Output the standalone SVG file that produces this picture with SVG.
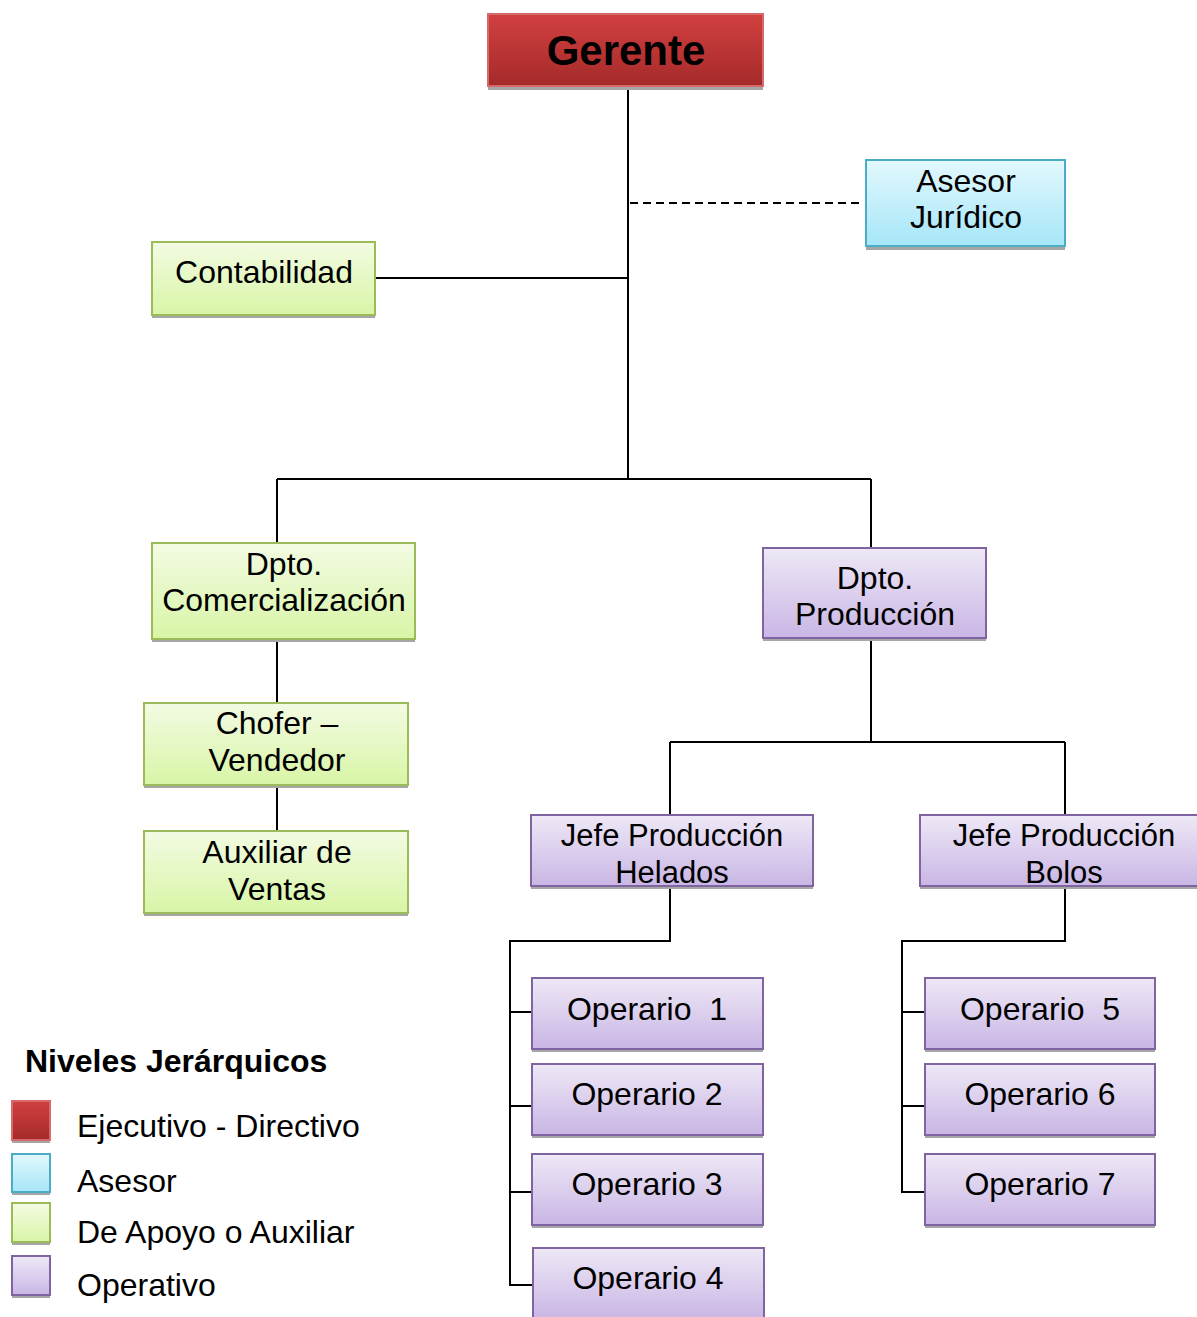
<svg xmlns="http://www.w3.org/2000/svg" width="1197" height="1317" viewBox="0 0 1197 1317">
<defs>
<linearGradient id="gRed" x1="0" y1="0" x2="0" y2="1"><stop offset="0" stop-color="#d24040"/><stop offset="1" stop-color="#a52a2a"/></linearGradient>
<linearGradient id="gBlue" x1="0" y1="0" x2="0" y2="1"><stop offset="0" stop-color="#e2f8fd"/><stop offset="1" stop-color="#a6e6f8"/></linearGradient>
<linearGradient id="gGreen" x1="0" y1="0" x2="0" y2="1"><stop offset="0" stop-color="#f3fbe3"/><stop offset="1" stop-color="#d8f5a6"/></linearGradient>
<linearGradient id="gPurple" x1="0" y1="0" x2="0" y2="1"><stop offset="0" stop-color="#eee8f6"/><stop offset="1" stop-color="#c9b6e5"/></linearGradient>
</defs>
<style>
.sh{fill:#a6a6a6}
.red{fill:url(#gRed);stroke:#d66a6a;stroke-width:2}
.blue{fill:url(#gBlue);stroke:#4bacc6;stroke-width:2}
.green{fill:url(#gGreen);stroke:#9bbb59;stroke-width:2}
.purple{fill:url(#gPurple);stroke:#8064a2;stroke-width:2}
text{font-family:"Liberation Sans",Arial,sans-serif;font-size:32px;fill:#000;text-anchor:middle}
.lg{text-anchor:start}
.b{font-weight:bold}
.j{font-size:31px}
.c{fill:none;stroke:#000;stroke-width:2}
</style>
<g id="connectors">
<path class="c" d="M628,86V479M375,278H628M277,479H871M277,479V543M871,479V548"/>
<path class="c" d="M630,203H862" stroke-dasharray="8,5"/>
<path class="c" d="M277,639V703M277,785V831"/>
<path class="c" d="M871,638V742M670,742H1065M670,742V815M1065,742V815"/>
<path class="c" d="M670,886V941H510V1285H533M510,1012H532M510,1106H532M510,1192H532"/>
<path class="c" d="M1065,886V941H902V1192H925M902,1012H925M902,1106H925"/>
</g>
<g id="gerente"><rect class="sh" x="488" y="17" width="275" height="73"/><rect class="red" x="488" y="14" width="275" height="72"/><text class="b" x="626" y="65" style="font-size:42px">Gerente</text></g>
<g id="asesor"><rect class="sh" x="866" y="163" width="199" height="87"/><rect class="blue" x="866" y="160" width="199" height="86"/><text x="966" y="192">Asesor</text><text x="966" y="228">Jurídico</text></g>
<g id="contabilidad"><rect class="sh" x="152" y="245" width="223" height="73"/><rect class="green" x="152" y="242" width="223" height="73"/><text x="264" y="283">Contabilidad</text></g>
<g id="comercializacion"><rect class="sh" x="152" y="546" width="263" height="96"/><rect class="green" x="152" y="543" width="263" height="96"/><text x="284" y="575">Dpto.</text><text x="284" y="611">Comercialización</text></g>
<g id="produccion"><rect class="sh" x="763" y="551" width="223" height="90"/><rect class="purple" x="763" y="548" width="223" height="90"/><text x="875" y="589">Dpto.</text><text x="875" y="625">Producción</text></g>
<g id="chofer"><rect class="sh" x="144" y="706" width="264" height="82"/><rect class="green" x="144" y="703" width="264" height="82"/><text x="277" y="734">Chofer –</text><text x="277" y="771">Vendedor</text></g>
<g id="auxiliar"><rect class="sh" x="144" y="834" width="264" height="82"/><rect class="green" x="144" y="831" width="264" height="82"/><text x="277" y="863">Auxiliar de</text><text x="277" y="900">Ventas</text></g>
<g id="jefeHelados"><rect class="sh" x="531" y="818" width="282" height="71"/><rect class="purple" x="531" y="815" width="282" height="71"/><text class="j" x="672" y="846">Jefe Producción</text><text class="j" x="672" y="883">Helados</text></g>
<g id="jefeBolos"><rect class="sh" x="920" y="818" width="280" height="71"/><rect class="purple" x="920" y="815" width="280" height="71"/><text class="j" x="1064" y="846">Jefe Producción</text><text class="j" x="1064" y="883">Bolos</text></g>
<g id="op1"><rect class="sh" x="532" y="981" width="231" height="71"/><rect class="purple" x="532" y="978" width="231" height="71"/><text x="647" y="1020" xml:space="preserve">Operario  1</text></g>
<g id="op2"><rect class="sh" x="532" y="1067" width="231" height="71"/><rect class="purple" x="532" y="1064" width="231" height="71"/><text x="647" y="1105">Operario 2</text></g>
<g id="op3"><rect class="sh" x="532" y="1157" width="231" height="71"/><rect class="purple" x="532" y="1154" width="231" height="71"/><text x="647" y="1195">Operario 3</text></g>
<g id="op4"><rect class="sh" x="533" y="1251" width="231" height="71"/><rect class="purple" x="533" y="1248" width="231" height="71"/><text x="648" y="1289">Operario 4</text></g>
<g id="op5"><rect class="sh" x="925" y="981" width="230" height="71"/><rect class="purple" x="925" y="978" width="230" height="71"/><text x="1040" y="1020" xml:space="preserve">Operario  5</text></g>
<g id="op6"><rect class="sh" x="925" y="1067" width="230" height="71"/><rect class="purple" x="925" y="1064" width="230" height="71"/><text x="1040" y="1105">Operario 6</text></g>
<g id="op7"><rect class="sh" x="925" y="1157" width="230" height="71"/><rect class="purple" x="925" y="1154" width="230" height="71"/><text x="1040" y="1195">Operario 7</text></g>
<g id="legend">
<text class="lg b" x="25" y="1072">Niveles Jerárquicos</text>
<rect class="sh" x="12" y="1104" width="38" height="39"/><rect class="red" x="12" y="1101" width="38" height="39"/><text class="lg" x="77" y="1137">Ejecutivo - Directivo</text>
<rect class="sh" x="12" y="1157" width="38" height="38"/><rect class="blue" x="12" y="1154" width="38" height="38"/><text class="lg" x="77" y="1192">Asesor</text>
<rect class="sh" x="12" y="1206" width="38" height="39"/><rect class="green" x="12" y="1203" width="38" height="39"/><text class="lg" x="77" y="1243">De Apoyo o Auxiliar</text>
<rect class="sh" x="12" y="1259" width="38" height="39"/><rect class="purple" x="12" y="1256" width="38" height="39"/><text class="lg" x="77" y="1296">Operativo</text>
</g>
</svg>
